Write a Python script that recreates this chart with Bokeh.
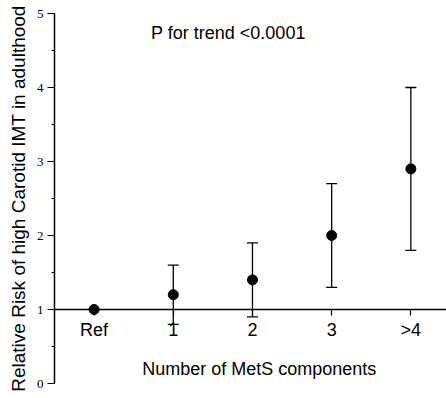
from bokeh.plotting import figure
from bokeh.models import (ColumnDataSource, LinearAxis, FixedTicker, SingleIntervalTicker,
                          Whisker, TeeHead, Label)
from bokeh.embed import file_html
from bokeh.resources import INLINE

# data
categories = ["Ref", "1", "2", "3", ">4"]
risk = [1.0, 1.2, 1.4, 2.0, 2.9]
lower = [None, 0.8, 0.9, 1.3, 1.8]
upper = [None, 1.6, 1.9, 2.7, 4.0]
y_ticks = [0, 1, 2, 3, 4, 5]
annotation = "P for trend <0.0001"
x_title = "Number of MetS components"
y_title = "Relative Risk of high Carotid IMT in adulthood"

xpos = list(range(len(categories)))

p = figure(width=446, height=398, output_backend="svg", toolbar_location=None,
           x_axis_type=None, x_range=(-0.5, 4.45), y_range=(0, 5),
           min_border_left=54, min_border_right=0, min_border_top=13, min_border_bottom=15)
p.grid.visible = False
p.outline_line_color = None
p.background_fill_color = "white"

# y axis
ya = p.yaxis[0]
ya.ticker = SingleIntervalTicker(interval=1, num_minor_ticks=2)
ya.axis_label = y_title
ya.axis_label_text_font = "Liberation Sans"
ya.axis_label_text_font_style = "normal"
ya.axis_label_text_font_size = "19px"
ya.axis_label_text_color = "black"
ya.axis_label_standoff = 5
ya.major_label_text_font = "Liberation Serif"
ya.major_label_text_font_size = "13px"
ya.major_label_text_color = "black"
ya.major_label_standoff = 4
ya.major_tick_in = 0
ya.major_tick_out = 7
ya.minor_tick_in = 0
ya.minor_tick_out = 3
ya.axis_line_width = 1.5
ya.major_tick_line_width = 1.2
ya.minor_tick_line_width = 1.2
ya.axis_line_color = "black"

# x axis at y = 1
xa = LinearAxis(fixed_location=1,
                ticker=FixedTicker(ticks=xpos, minor_ticks=[]),
                major_label_overrides={i: c for i, c in zip(xpos, categories)})
xa.major_label_text_font = "Liberation Sans"
xa.major_label_text_font_size = "18px"
xa.major_label_text_color = "black"
xa.major_label_standoff = 4
xa.major_tick_in = 0
xa.major_tick_out = 6
xa.axis_line_width = 1.5
xa.major_tick_line_width = 1.2
xa.axis_line_color = "black"
p.add_layout(xa, "below")

# x axis title
p.add_layout(Label(x=2.085, y=0.2, text=x_title, text_font="Liberation Sans",
                   text_font_size="18px", text_color="black", text_align="center",
                   text_baseline="alphabetic"))

# error bars
ex = [x for x, l in zip(xpos, lower) if l is not None]
el = [l for l in lower if l is not None]
eu = [u for u in upper if u is not None]
esrc = ColumnDataSource(dict(x=ex, lower=el, upper=eu))
w = Whisker(source=esrc, base="x", lower="lower", upper="upper",
            line_color="black", line_width=1.3,
            upper_head=TeeHead(size=11, line_color="black", line_width=1.3),
            lower_head=TeeHead(size=11, line_color="black", line_width=1.3))
p.add_layout(w)

src = ColumnDataSource(dict(x=xpos, y=risk))
p.scatter("x", "y", source=src, size=10, color="black")

p.add_layout(Label(x=0.72, y=4.74, text=annotation, text_font="Liberation Sans",
                   text_font_size="18px", text_color="black", text_baseline="alphabetic"))

open("out.html", "w").write(file_html(p, INLINE))
